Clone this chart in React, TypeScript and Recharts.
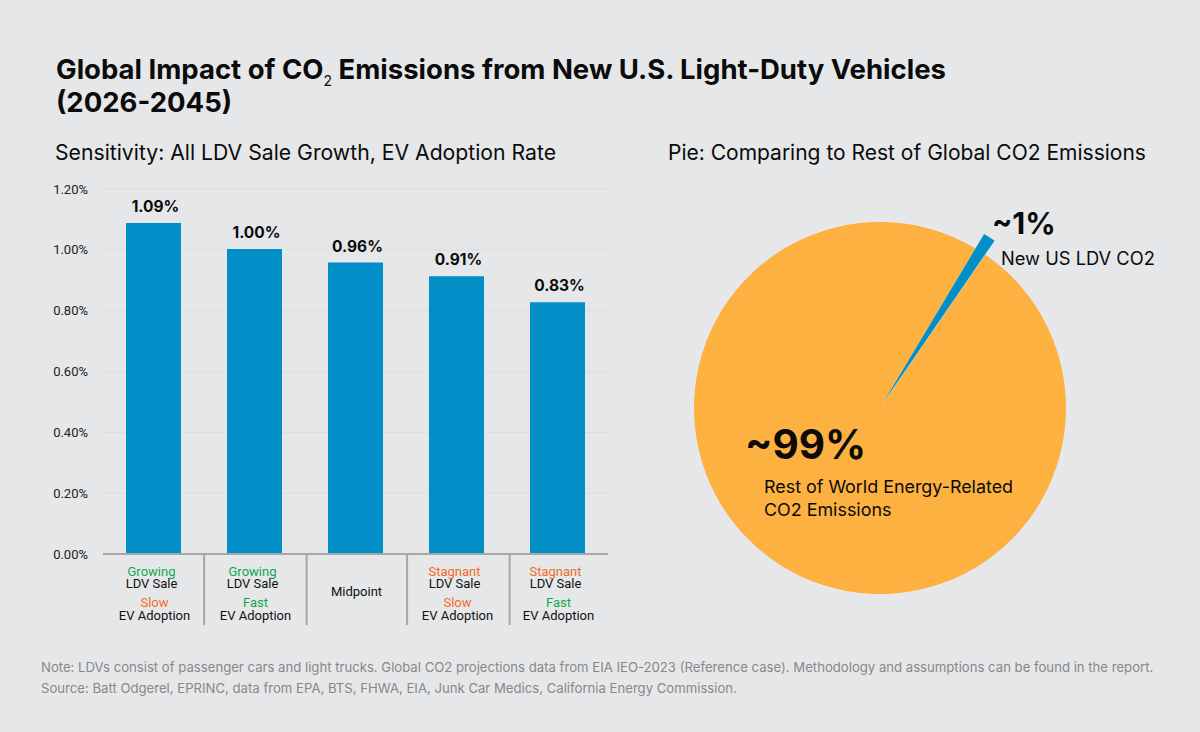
import React from "react";
import { BarChart, Bar, XAxis, YAxis, CartesianGrid, LabelList, PieChart, Pie, Cell } from "recharts";

const categories = ["Growing-Slow", "Growing-Fast", "Midpoint", "Stagnant-Slow", "Stagnant-Fast"];
const values = [1.088, 1.003, 0.958, 0.913, 0.828];
const valueLabels = ["1.09%", "1.00%", "0.96%", "0.91%", "0.83%"];
const yTicks = [0, 0.2, 0.4, 0.6, 0.8, 1.0, 1.2];
const saleWords = ["Growing", "Growing", "", "Stagnant", "Stagnant"];
const evWords = ["Slow", "Fast", "", "Slow", "Fast"];
const pieNames = ["New US LDV CO2", "Rest of World Energy-Related CO2 Emissions"];
const pieValues = [1, 99];

const GREEN = "#12a84f";
const ORANGE = "#f26a2e";
const BLUE = "#028ec7";
const AMBER = "#fdb141";
const BG = "#e6e7e9";
const FONT = "Inter, sans-serif";
const AXIS_FONT = "Roboto, sans-serif";
const SEPARATOR_NUDGE = [0, 1.5, 1, 2.5];

const wordColor: Record<string, string> = { Growing: GREEN, Fast: GREEN, Slow: ORANGE, Stagnant: ORANGE };
const barData = categories.map((c, i) => ({ category: c, value: values[i], label: valueLabels[i], index: i }));
const pieData = pieNames.map((n, i) => ({ name: n, value: pieValues[i] }));

function XTick(props: any) {
  const { x, y, payload, index } = props;
  const i = index ?? payload.index;
  const top = y;
  const sx = x + 50.6 + (SEPARATOR_NUDGE[i] ?? 0);
  const sep = i < categories.length - 1 ? (
    <line x1={sx} x2={sx} y1={top - 8} y2={top + 63} stroke="#a6a6a6" strokeWidth={2} />
  ) : null;
  const common = { textAnchor: "middle" as const, fontFamily: AXIS_FONT, fontSize: 13 };
  if (!saleWords[i]) {
    return (
      <g>
        {sep}
        <text x={x + 1} y={top + 34} fill="#111" {...common}>{payload.value}</text>
      </g>
    );
  }
  return (
    <g>
      {sep}
      <text x={x - 2} y={top + 14} fill={wordColor[saleWords[i]]} {...common}>{saleWords[i]}</text>
      <text x={x - 2} y={top + 26} fill="#111" {...common}>LDV Sale</text>
      <text x={x + 1} y={top + 45} fill={wordColor[evWords[i]]} {...common}>{evWords[i]}</text>
      <text x={x + 1} y={top + 58} fill="#111" {...common}>EV Adoption</text>
    </g>
  );
}

const textStyle: React.CSSProperties = { position: "absolute", fontFamily: FONT, color: "#0b0b0b", whiteSpace: "nowrap" };

export default function App() {
  return (
    <div style={{ position: "absolute", left: 0, top: 0, width: 1200, height: 732, background: BG, overflow: "hidden" }}>
      <div style={{ ...textStyle, left: 56, top: 53, fontSize: 27.5, fontWeight: 700, lineHeight: "33px" }}>
        Global Impact of CO<sub style={{ fontSize: 14, fontWeight: 400, lineHeight: 0 }}>2</sub> Emissions from New U.S. Light-Duty Vehicles
        <br />(2026-2045)
      </div>
      <div style={{ ...textStyle, left: 55, top: 139, fontSize: 21.2, lineHeight: "26px" }}>Sensitivity: All LDV Sale Growth, EV Adoption Rate</div>
      <div style={{ ...textStyle, left: 668, top: 140, fontSize: 21, lineHeight: "26px" }}>Pie: Comparing to Rest of Global CO2 Emissions</div>

      <div style={{ position: "absolute", left: 0, top: 0 }}>
        <BarChart width={1200} height={732} data={barData} margin={{ top: 189, right: 592, bottom: 0, left: 45 }} barCategoryGap="0%">
          <CartesianGrid horizontal vertical={false} stroke="#dcdddf" strokeWidth={1} />
          <XAxis dataKey="category" height={178} interval={0} tickLine={false} axisLine={{ stroke: "#a6a6a6", strokeWidth: 2 }} tick={<XTick />} tickMargin={2} />
          <YAxis width={58} domain={[0, 1.2]} ticks={yTicks} tickLine={false} axisLine={false} tickFormatter={(v: number) => v.toFixed(2) + "%"} tick={{ fontFamily: AXIS_FONT, fontSize: 13, fill: "#222" }} tickMargin={9} />
          <Bar dataKey="value" fill={BLUE} barSize={55} isAnimationActive={false}>
            <LabelList dataKey="label" position="top" offset={11} dx={2} style={{ fontFamily: FONT, fontSize: 15.5, fontWeight: 700, fill: "#0b0b0b" }} />
          </Bar>
        </BarChart>
      </div>

      <div style={{ position: "absolute", left: 0, top: 0 }}>
        <PieChart width={1200} height={732} margin={{ top: 0, right: 0, bottom: 0, left: 0 }}>
          <Pie data={pieData} dataKey="value" cx={880} cy={408} innerRadius={0} outerRadius={186} startAngle={55.5} endAngle={415.5} stroke="none" isAnimationActive={false}>
            <Cell fill="none" />
            <Cell fill={AMBER} />
          </Pie>
          <Pie data={pieData} dataKey="value" cx={883} cy={403} innerRadius={0} outerRadius={197} startAngle={55.5} endAngle={415.5} stroke="none" isAnimationActive={false}>
            <Cell fill={BLUE} />
            <Cell fill="none" />
          </Pie>
        </PieChart>
      </div>

      <div style={{ ...textStyle, left: 992, top: 204, fontSize: 30, fontWeight: 700, lineHeight: "38px" }}>~1%</div>
      <div style={{ ...textStyle, left: 1001, top: 246, fontSize: 18.3, lineHeight: "24px" }}>{pieNames[0]}</div>
      <div style={{ ...textStyle, left: 745, top: 420, fontSize: 40.5, fontWeight: 700, lineHeight: "50px" }}>~99%</div>
      <div style={{ ...textStyle, left: 764, top: 475, fontSize: 17.9, lineHeight: "23px" }}>Rest of World Energy-Related<br />CO2 Emissions</div>

      <div style={{ ...textStyle, left: 41, top: 657, fontSize: 13.15, lineHeight: "21px", color: "#86878a" }}>
        Note: LDVs consist of passenger cars and light trucks. Global CO2 projections data from EIA IEO-2023 (Reference case). Methodology and assumptions can be found in the report.
        <br />Source: Batt Odgerel, EPRINC, data from EPA, BTS, FHWA, EIA, Junk Car Medics, California Energy Commission.
      </div>
    </div>
  );
}
